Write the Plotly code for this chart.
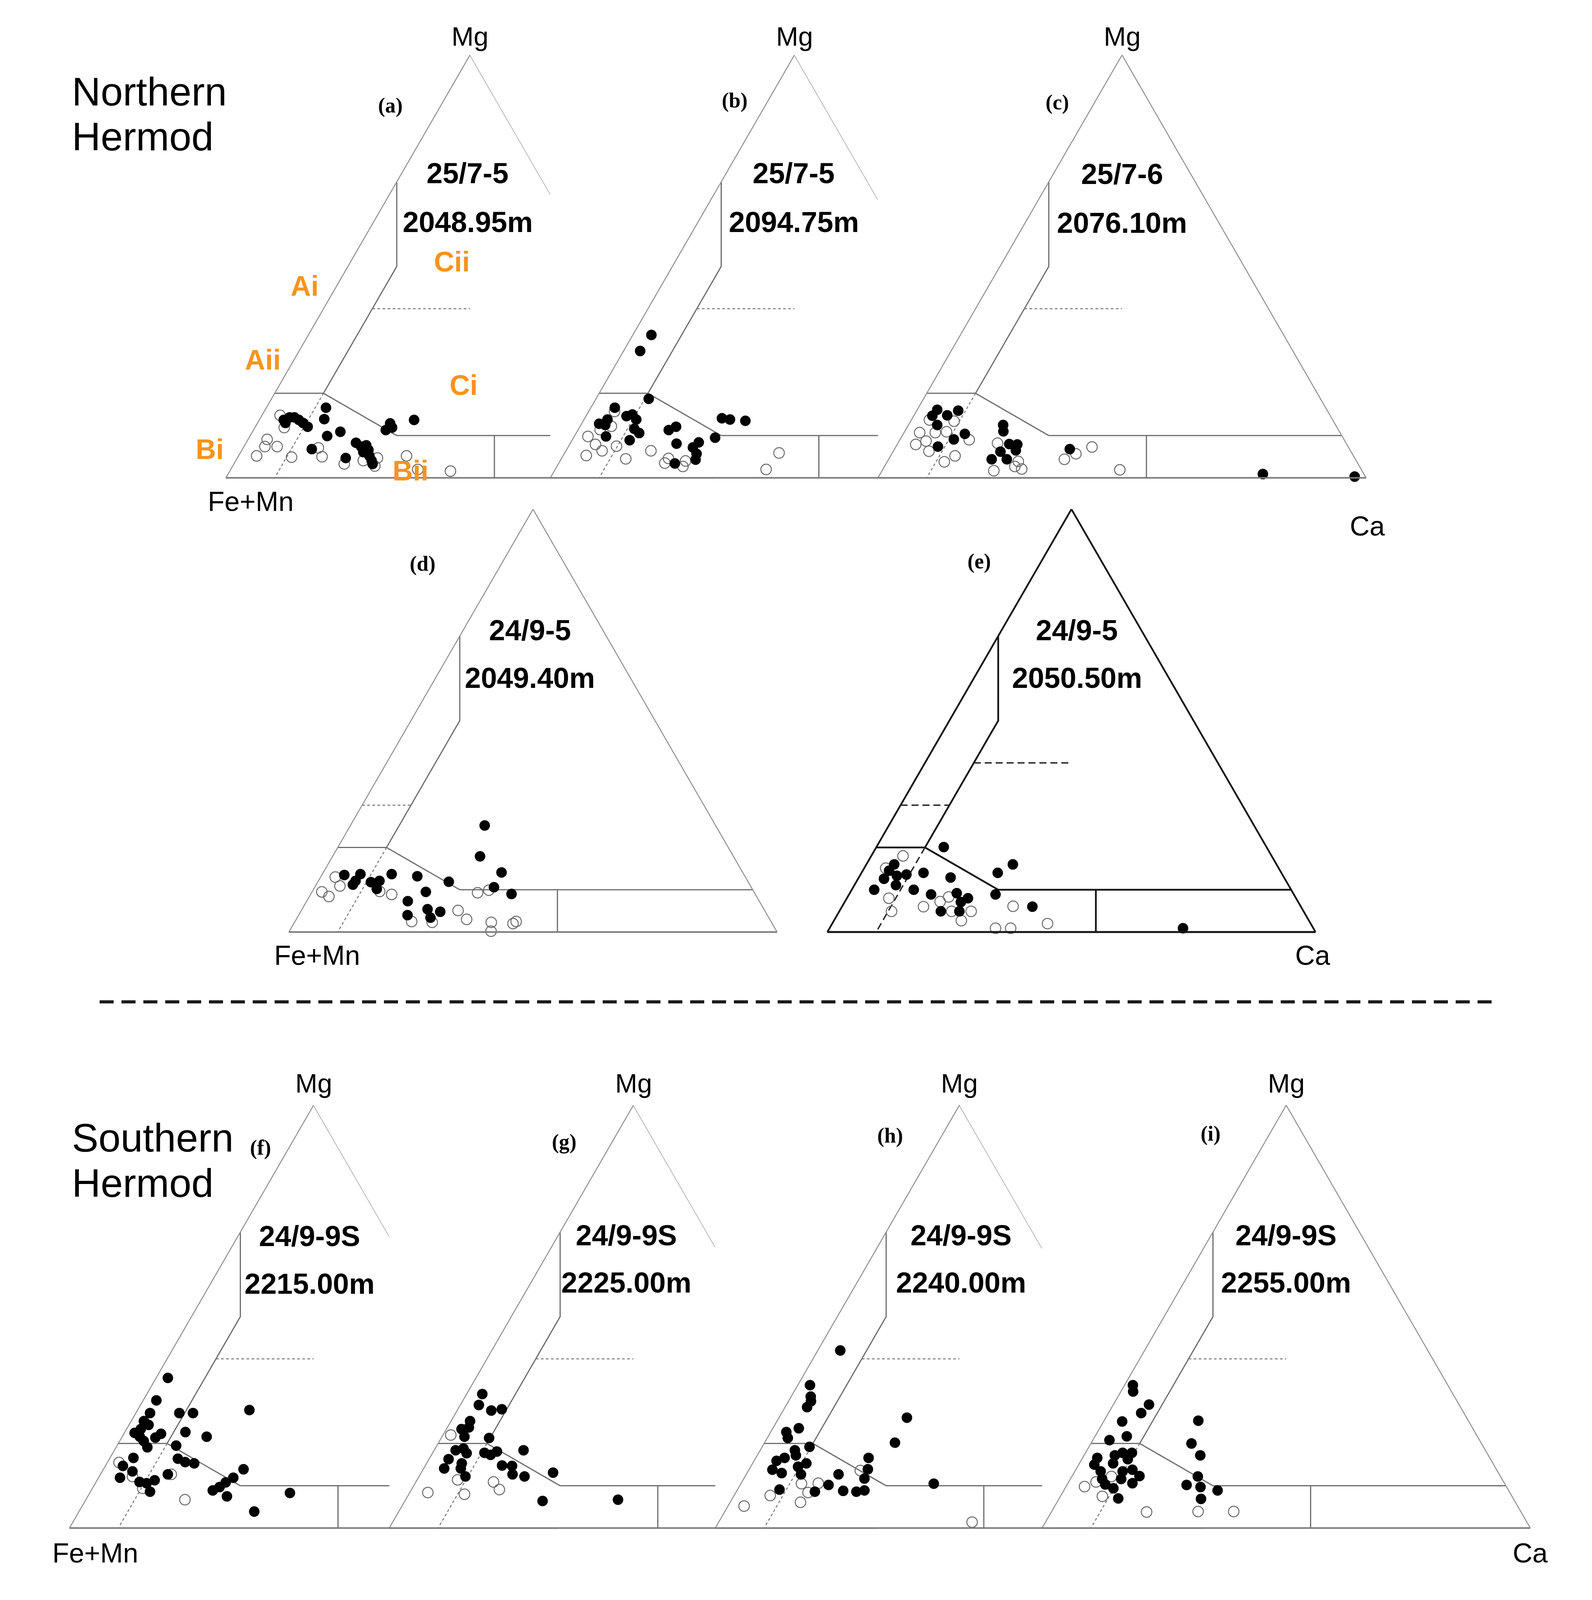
import math
import plotly.graph_objects as go

# ---------------- data (percent; Mg = top apex, Ca = bottom-right, Fe+Mn = remainder) ----------------
WELLS = ["25/7-5", "25/7-5", "25/7-6", "24/9-5", "24/9-5", "24/9-9S", "24/9-9S", "24/9-9S", "24/9-9S"]
DEPTHS = ["2048.95m", "2094.75m", "2076.10m", "2049.40m", "2050.50m", "2215.00m", "2225.00m", "2240.00m", "2255.00m"]
LETTERS = ["a", "b", "c", "d", "e", "f", "g", "h", "i"]

a_fill_mg = [16.6, 13.9, 13.7, 14.3, 14.3, 13.7, 13.0, 12.1, 13.0, 10.9, 9.9, 6.8, 4.7, 8.3, 7.4, 7.7, 6.1, 6.6, 5.2, 4.1, 3.3, 12.9, 11.3, 11.9, 13.7]
a_fill_ca = [12.2, 13.2, 5.0, 5.9, 6.9, 8.1, 9.3, 10.7, 5.7, 18.0, 15.8, 14.2, 22.2, 22.5, 24.0, 24.9, 25.1, 25.9, 26.8, 27.8, 28.4, 27.2, 27.1, 28.1, 31.7]
a_open_mg = [14.8, 11.9, 9.1, 7.4, 7.4, 5.2, 4.9, 7.1, 5.0, 3.3, 4.1, 4.7, 2.8, 5.2, 2.0, 1.6]
a_open_ca = [3.7, 6.0, 3.9, 4.3, 6.8, 3.7, 11.0, 15.4, 17.2, 22.6, 26.1, 28.7, 29.1, 34.4, 38.3, 45.2]

b_fill_mg = [33.8, 30.0, 18.7, 16.6, 14.6, 15.0, 13.8, 13.8, 12.8, 12.5, 11.6, 10.6, 9.8, 8.9, 11.3, 12.1, 8.1, 9.5, 8.4, 7.2, 5.7, 4.3, 3.4, 14.1, 13.8, 13.5]
b_fill_ca = [3.8, 3.4, 10.8, 4.9, 8.3, 9.3, 10.7, 4.8, 3.6, 5.0, 11.4, 12.9, 6.5, 11.8, 18.6, 19.7, 21.8, 29.0, 26.2, 25.6, 27.1, 27.6, 23.8, 28.1, 29.9, 33.2]
b_open_mg = [15.7, 9.8, 7.9, 6.4, 5.3, 12.2, 11.4, 7.5, 4.5, 6.4, 3.5, 4.6, 2.7, 4.0, 5.9, 2.0]
b_open_ca = [5.3, 2.8, 5.3, 7.4, 4.7, 6.4, 4.5, 9.8, 13.2, 17.4, 21.7, 21.9, 25.8, 25.7, 43.9, 43.2]

c_fill_mg = [16.1, 14.7, 14.8, 15.9, 12.5, 10.4, 9.1, 7.4, 12.5, 11.0, 8.0, 7.9, 6.5, 6.2, 4.4, 4.4, 6.8, 0.9, 0.3]
c_fill_ca = [4.1, 3.8, 6.8, 8.5, 5.9, 12.6, 11.0, 8.6, 19.4, 20.2, 22.9, 24.6, 25.0, 22.0, 21.1, 24.2, 35.9, 78.4, 97.5]
c_open_mg = [13.7, 13.4, 10.7, 10.7, 10.9, 8.7, 7.9, 6.3, 5.2, 3.8, 9.0, 8.2, 3.9, 1.7, 2.7, 2.1, 4.4, 5.7, 7.3, 1.9]
c_open_ca = [3.7, 8.9, 3.2, 6.4, 8.6, 5.5, 3.8, 7.3, 13.2, 11.7, 14.2, 20.4, 26.8, 22.9, 26.7, 28.4, 36.0, 37.7, 40.2, 48.6]

d_fill_mg = [25.2, 17.9, 14.1, 13.5, 13.7, 12.1, 11.2, 11.8, 12.1, 10.2, 13.7, 13.2, 11.9, 10.6, 9.0, 9.5, 7.3, 4.0, 5.4, 3.4, 4.8]
d_fill_ca = [27.5, 30.2, 36.5, 4.6, 7.8, 7.6, 7.5, 10.9, 12.5, 12.9, 14.2, 19.7, 26.8, 36.7, 41.1, 23.3, 20.7, 22.3, 25.7, 27.3, 28.6]
d_open_mg = [13.0, 10.9, 9.5, 8.4, 9.6, 8.9, 2.5, 2.3, 5.1, 3.0, 9.3, 9.9, 2.3, 0.2, 2.0, 2.5]
d_open_ca = [3.0, 5.0, 2.0, 4.0, 13.8, 16.6, 23.9, 28.2, 32.1, 34.9, 34.0, 36.0, 40.3, 41.3, 44.9, 45.3]

e_fill_mg = [20.1, 16.0, 14.0, 16.0, 14.5, 13.3, 12.6, 13.6, 10.0, 11.1, 10.0, 14.0, 12.9, 8.9, 9.2, 7.1, 8.0, 4.9, 4.9, 8.9, 6.0, 0.9]
e_fill_ca = [13.8, 30.0, 27.9, 5.7, 5.4, 7.6, 5.3, 9.4, 4.6, 8.5, 12.7, 12.7, 18.8, 16.8, 21.9, 23.8, 24.8, 24.6, 20.8, 30.0, 39.0, 72.4]
e_open_mg = [18.0, 15.1, 8.0, 4.9, 6.0, 7.2, 8.3, 4.9, 4.9, 2.7, 0.9, 0.9, 6.1, 2.0]
e_open_ca = [6.5, 4.4, 8.6, 10.7, 16.7, 19.5, 20.7, 23.0, 27.0, 26.1, 34.0, 37.1, 35.0, 44.1]

f_fill_mg = [35.5, 30.2, 27.2, 25.3, 24.4, 23.4, 22.5, 21.6, 20.6, 21.4, 22.3, 27.2, 27.2, 22.7, 21.6, 27.9, 19.5, 19.1, 16.4, 15.6, 15.3, 16.6, 14.7, 13.4, 11.9, 10.9, 10.6, 11.3, 8.6, 12.7, 13.9, 11.9, 10.8, 9.7, 8.9, 7.5, 8.3, 3.9]
f_fill_ca = [2.4, 2.7, 2.9, 2.6, 4.0, 2.9, 2.1, 3.6, 4.9, 6.9, 7.6, 8.9, 11.7, 12.4, 17.3, 22.9, 12.1, 6.4, 14.0, 15.9, 17.9, 4.8, 3.6, 6.2, 4.4, 8.9, 10.5, 11.8, 12.2, 13.8, 28.7, 27.6, 26.6, 25.9, 24.9, 28.5, 41.0, 35.9]
f_open_mg = [15.5, 12.2, 9.4, 12.7, 6.7]
f_open_ca = [2.4, 6.8, 10.3, 14.5, 20.3]

g_fill_mg = [31.7, 29.1, 27.8, 28.1, 25.3, 23.4, 23.8, 21.6, 21.3, 18.4, 18.8, 17.7, 17.8, 17.3, 18.1, 18.4, 16.3, 14.1, 15.3, 14.1, 12.2, 14.8, 14.7, 12.7, 12.2, 13.1, 6.4, 6.7]
g_fill_ca = [3.2, 3.8, 7.0, 9.0, 3.9, 3.1, 4.4, 4.6, 9.8, 4.4, 5.8, 7.0, 10.6, 12.1, 13.0, 18.3, 4.0, 4.2, 7.2, 7.6, 9.5, 15.7, 17.8, 18.9, 21.6, 27.0, 28.2, 43.5]
g_open_mg = [22.0, 11.4, 8.4, 8.0, 10.9, 9.1]
g_open_ca = [1.6, 8.3, 3.7, 11.4, 15.9, 18.0]

h_fill_mg = [42.0, 33.8, 31.1, 30.0, 28.6, 26.1, 20.2, 23.6, 22.7, 21.3, 19.2, 18.4, 17.2, 16.6, 15.9, 16.6, 13.8, 13.0, 14.5, 12.7, 15.3, 13.9, 11.7, 12.7, 10.2, 8.6, 8.8, 8.6, 8.9, 9.1, 10.5]
h_fill_ca = [4.6, 2.5, 4.0, 4.6, 4.5, 26.2, 26.7, 5.3, 3.2, 4.2, 9.7, 7.1, 7.9, 23.1, 4.6, 5.9, 4.8, 7.1, 9.7, 11.2, 11.0, 24.3, 24.7, 18.9, 18.1, 16.1, 21.8, 24.6, 26.1, 8.6, 39.5]
h_open_mg = [13.6, 10.5, 10.6, 8.4, 7.7, 6.1, 5.2, 1.4]
h_open_ca = [22.9, 12.4, 15.8, 14.8, 7.4, 14.4, 3.3, 51.9]

i_fill_mg = [33.8, 32.3, 29.2, 27.2, 25.2, 25.4, 21.7, 20.8, 20.0, 17.2, 16.6, 15.0, 17.2, 17.8, 17.8, 15.3, 16.3, 13.4, 13.4, 13.8, 12.3, 11.6, 10.6, 10.3, 9.4, 7.0, 11.6, 12.2, 10.2, 9.7, 8.9, 6.9]
i_fill_ca = [1.7, 2.5, 7.3, 6.7, 3.8, 19.3, 6.5, 3.4, 20.6, 23.8, 3.0, 3.2, 6.3, 7.6, 9.5, 6.9, 9.4, 5.3, 9.8, 11.6, 13.8, 10.4, 13.2, 7.8, 9.9, 12.1, 6.5, 25.8, 24.5, 27.6, 31.5, 29.1]
i_open_mg = [9.8, 10.9, 7.5, 12.2, 3.8, 3.9, 3.9]
i_open_ca = [3.8, 5.6, 8.6, 8.1, 19.5, 30.0, 37.3]

# classification field boundaries (Mg %, Ca %)
FIELD_SOLID = [
    ([70, 50, 20], [0, 10, 10]),
    ([20, 20], [0, 10]),
    ([20, 10], [10, 30]),
    ([10, 0], [50, 55]),
]
MG10_START_CA = 30
MG10_END_CA = 90
FIELD_DOTTED = ([20, 0], [10, 10])
DASH_MG40 = ([40, 40], [10, 30])
DASH_MG30 = ([30, 30], [0, 10])

FIELD_LABELS = ["Ai", "Aii", "Bi", "Bii", "Ci", "Cii"]

# ---------------- layout geometry ----------------
# the photographed area is ~4076 x 4076, so the figure is laid out on a 4060 x 4060 canvas;
# positions below are given in reference-image pixels (4076 x 4316) and converted to paper fractions.
FIG_W, FIG_H = 4060, 4060
REF_W, REF_H = 4076, 4316
TRI_W = 1250.0
TRI_H = TRI_W * math.sqrt(3) / 2


def rx(x):
    return x / REF_W


def ry(y):
    return 1 - y / REF_H


fills = [(a_fill_mg, a_fill_ca), (b_fill_mg, b_fill_ca), (c_fill_mg, c_fill_ca), (d_fill_mg, d_fill_ca),
         (e_fill_mg, e_fill_ca), (f_fill_mg, f_fill_ca), (g_fill_mg, g_fill_ca), (h_fill_mg, h_fill_ca),
         (i_fill_mg, i_fill_ca)]
opens = [(a_open_mg, a_open_ca), (b_open_mg, b_open_ca), (c_open_mg, c_open_ca), (d_open_mg, d_open_ca),
         (e_open_mg, e_open_ca), (f_open_mg, f_open_ca), (g_open_mg, g_open_ca), (h_open_mg, h_open_ca),
         (i_open_mg, i_open_ca)]

CX = [1200, 2034, 2876, 1362, 2746, 798, 1620, 2458, 3298]
BASE = [1292, 1292, 1292, 2528, 2528, 4150, 4150, 4150, 4150]
NEXT = [1, 2, None, None, None, 6, 7, 8, None]
TXT_X = [1194, 2032, 2876, 1354, 2760, 788, 1602, 2462, 3297]
TXT_Y = [(463, 596), (463, 596), (465, 598), (1707, 1836), (1707, 1836), (3355, 3485), (3353, 3482), (3353, 3482), (3353, 3482)]
LET_XY = [(995, 278), (1880, 265), (2710, 270), (1078, 1525), (2509, 1519), (662, 3115), (1442, 3099), (2280, 3082), (3104, 3077)]
DASH40 = [True, True, True, False, True, True, True, True, True]
DASH30 = [False, False, False, True, True, False, False, False, False]
DARK = [False, False, False, False, True, False, False, False, False]
MG_GAP = {1292: 48, 4150: 56}
FIELD_LABEL_POS = [(0.161, 0.454), (0.076, 0.279), (-0.033, 0.068), (0.378, 0.017), (0.487, 0.219), (0.463, 0.511)]

SANS = "Liberation Sans, Arial, sans-serif"
SERIF = "Liberation Serif, Times New Roman, serif"
ORANGE = "#F7941D"

fig = go.Figure()
annotations = []
layout_kw = {}


def tri_point(k, xf, mg):
    """paper coordinates of a point given as fraction across / height in panel k"""
    left = rx(CX[k]) - (TRI_W / 2) / FIG_W
    x = left + xf * TRI_W / FIG_W
    y = ry(BASE[k]) + mg * TRI_H / FIG_H
    return x, y


for k in range(9):
    sub = "ternary" if k == 0 else "ternary%d" % (k + 1)
    dark = DARK[k]
    edge_col = "#151515" if dark else "#8e8e8e"
    field_col = "#151515" if dark else "#6c6c6c"
    base_col = "#151515" if dark else "#7a7a7a"
    edge_w = 4.5 if dark else 2.5
    field_w = 4.5 if dark else 3
    base_w = 5 if dark else 4
    dot_style = dict(color="#222222" if dark else "#777777", width=3.5 if dark else 2.5,
                     dash="18px,10px" if dark else "7px,6px")

    cut = None
    if NEXT[k] is not None:
        cut = (rx(CX[NEXT[k]]) - rx(CX[k])) * FIG_W / TRI_W

    def add_line(mg, ca, style):
        fig.add_trace(go.Scatterternary(a=mg, c=ca, mode="lines", line=style, subplot=sub,
                                        hoverinfo="skip", showlegend=False))

    solid = dict(color=field_col, width=field_w)
    for mg, ca in FIELD_SOLID:
        add_line(mg, ca, solid)
    mg10_end = MG10_END_CA if cut is None else 100 * cut - 5
    add_line([10, 10], [MG10_START_CA, mg10_end], solid)
    add_line(FIELD_DOTTED[0], FIELD_DOTTED[1], dot_style)
    if DASH40[k]:
        add_line(DASH_MG40[0], DASH_MG40[1], dot_style)
    if DASH30[k]:
        add_line(DASH_MG30[0], DASH_MG30[1], dot_style)
    if cut is not None:
        m_cut = 200 * (1 - cut)
        add_line([100, m_cut], [0, 100 - m_cut], dict(color=edge_col, width=edge_w))

    fig.add_trace(go.Scatterternary(
        a=opens[k][0], c=opens[k][1], mode="markers", subplot=sub, cliponaxis=False,
        marker=dict(symbol="circle-open", size=27, color="#6a6a6a", line=dict(width=2.5)),
        hoverinfo="skip", showlegend=False))
    fig.add_trace(go.Scatterternary(
        a=fills[k][0], c=fills[k][1], mode="markers", subplot=sub, cliponaxis=False,
        marker=dict(symbol="circle", size=27, color="#000000", line=dict(width=0)),
        hoverinfo="skip", showlegend=False))

    ax = dict(showgrid=False, showticklabels=False, ticks="", title=dict(text=""), min=0, showline=True)
    x0 = rx(CX[k]) - (TRI_W / 2) / FIG_W
    y0 = ry(BASE[k])
    layout_kw[sub] = dict(
        sum=100,
        domain=dict(x=[x0, x0 + TRI_W / FIG_W], y=[y0, y0 + TRI_H / FIG_H]),
        bgcolor="white",
        aaxis=dict(ax, linecolor=edge_col, linewidth=edge_w),
        baxis=dict(ax, linecolor=base_col, linewidth=base_w),
        caxis=dict(ax, linecolor=edge_col, linewidth=edge_w, showline=cut is None),
    )

    # texts
    annotations.append(dict(x=rx(TXT_X[k]), y=ry(TXT_Y[k][0]), text="<b>%s</b>" % WELLS[k],
                            font=dict(family=SANS, size=74, color="black")))
    annotations.append(dict(x=rx(TXT_X[k]), y=ry(TXT_Y[k][1]), text="<b>%s</b>" % DEPTHS[k],
                            font=dict(family=SANS, size=74, color="black")))
    annotations.append(dict(x=rx(LET_XY[k][0]), y=ry(LET_XY[k][1]), text="<b>(%s)</b>" % LETTERS[k],
                            font=dict(family=SERIF, size=54, color="black")))
    if BASE[k] in MG_GAP:
        apex_y = y0 + TRI_H / FIG_H
        annotations.append(dict(x=rx(CX[k]), y=apex_y + MG_GAP[BASE[k]] / FIG_H, text="Mg",
                                font=dict(family=SANS, size=68, color="black")))

# corner labels
for (x, y) in [(524, 1356), (695, 2592), (124, 4218)]:
    annotations.append(dict(x=rx(x), y=ry(y), text="Fe+Mn", xanchor="left",
                            font=dict(family=SANS, size=70, color="black")))
for (x, y) in [(3554, 1423), (3413, 2592), (3973, 4218)]:
    annotations.append(dict(x=rx(x), y=ry(y), text="Ca", xanchor="right",
                            font=dict(family=SANS, size=70, color="black")))

# group titles
for txt, y in [("Northern", 241), ("Hermod", 364), ("Southern", 3088), ("Hermod", 3212)]:
    annotations.append(dict(x=rx(175), y=ry(y), text=txt, xanchor="left",
                            font=dict(family=SANS, size=102, color="black")))

# field labels in panel (a)
for txt, (xf, mg) in zip(FIELD_LABELS, FIELD_LABEL_POS):
    x, y = tri_point(0, xf, mg)
    annotations.append(dict(x=x, y=y, text="<b>%s</b>" % txt,
                            font=dict(family=SANS, size=72, color=ORANGE)))

for an in annotations:
    an.setdefault("xref", "paper")
    an.setdefault("yref", "paper")
    an.setdefault("showarrow", False)
    an.setdefault("xanchor", "center")
    an.setdefault("yanchor", "middle")

separator = dict(type="line", xref="paper", yref="paper", x0=rx(248), x1=rx(3827), y0=ry(2718), y1=ry(2718),
                 line=dict(color="#1a1a1a", width=8, dash="36px,20px"))

fig.update_layout(
    width=FIG_W, height=FIG_H, margin=dict(l=0, r=0, t=0, b=0),
    paper_bgcolor="white", plot_bgcolor="white", showlegend=False,
    annotations=annotations, shapes=[separator],
    **layout_kw,
)

fig.write_html("out.html")
